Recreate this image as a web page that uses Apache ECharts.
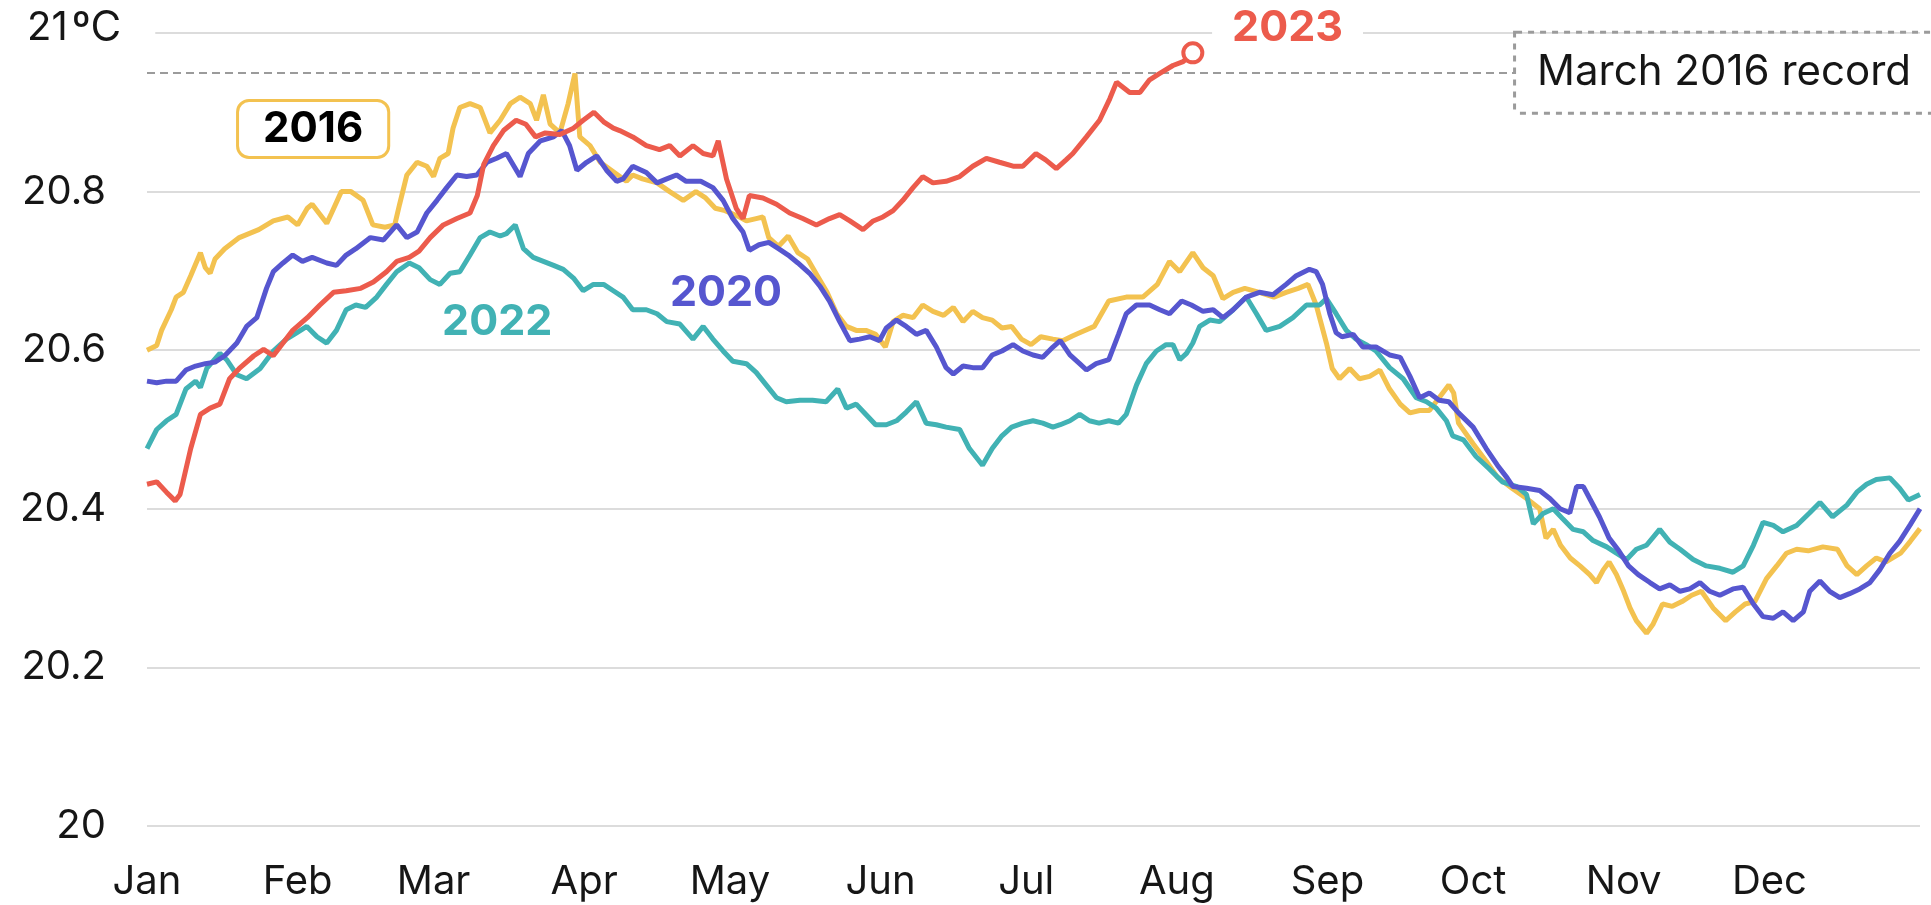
<!DOCTYPE html>
<html>
<head>
<meta charset="utf-8">
<script src="https://cdn.jsdelivr.net/npm/echarts@6/dist/echarts.min.js"></script>
<style>
html,body{margin:0;padding:0;background:#fff;}
#chart{width:1931px;height:905px;}
</style>
</head>
<body>
<div id="chart"></div>
<script>
// ---------- DATA ----------
const monthNames = ['Jan','Feb','Mar','Apr','May','Jun','Jul','Aug','Sep','Oct','Nov','Dec'];
const monthStartDays = [0,31,59,90,120,151,181,212,243,273,304,334];
const yMin = 20, yMax = 21, yStep = 0.2;
const topTickValue = '21';
const topTickUnit = 'ºC';
const recordValue = 20.95;
const recordLabel = 'March 2016 record';

// [day of year, °C]
const y2016 = [[0,20.600],[2,20.606],[3,20.625],[5,20.651],[6,20.667],[7.5,20.673],[9,20.694],[11,20.723],[12,20.704],[13,20.697],[14,20.715],[16,20.728],[19,20.742],[23,20.752],[26,20.763],[29,20.768],[31,20.758],[33,20.779],[34,20.784],[37,20.760],[38,20.773],[40,20.800],[42,20.800],[44.5,20.789],[46.5,20.758],[49,20.755],[51,20.758],[52,20.784],[53.5,20.821],[55.6,20.837],[57.6,20.832],[59,20.819],[60.3,20.842],[62,20.848],[63,20.880],[64.4,20.906],[66.5,20.911],[68.6,20.906],[70.6,20.874],[72.7,20.890],[74.8,20.911],[76.8,20.919],[78.9,20.911],[80.2,20.890],[81.6,20.922],[83,20.885],[85,20.874],[86.7,20.911],[88.1,20.949],[89.1,20.869],[91.2,20.858],[93.3,20.837],[96,20.825],[98.7,20.813],[100,20.821],[102,20.816],[105,20.811],[107.6,20.800],[110.4,20.789],[113,20.800],[115,20.792],[117,20.779],[119,20.776],[122,20.768],[123.4,20.763],[125.4,20.766],[126.8,20.768],[128,20.742],[130,20.731],[132,20.744],[134,20.723],[136,20.715],[138,20.694],[140,20.673],[142,20.646],[144,20.630],[146,20.625],[148,20.625],[150,20.620],[152,20.604],[153.6,20.636],[155.6,20.644],[157.7,20.641],[159.7,20.657],[161.8,20.649],[164,20.644],[166,20.654],[168,20.636],[170,20.649],[172,20.641],[174,20.638],[176,20.628],[178,20.630],[180,20.614],[182,20.607],[184,20.617],[186.5,20.614],[188.5,20.612],[190.5,20.618],[192,20.622],[195,20.630],[198,20.662],[201.6,20.667],[205,20.667],[208,20.683],[210.5,20.712],[212.6,20.699],[215.3,20.723],[217.4,20.704],[219.5,20.694],[221.5,20.665],[223.6,20.673],[226,20.678],[229,20.673],[232,20.667],[234.5,20.673],[237,20.678],[239,20.683],[240.7,20.657],[242.8,20.609],[244,20.577],[245.5,20.564],[247.6,20.577],[249.6,20.564],[251.7,20.567],[253.8,20.575],[255.8,20.551],[258,20.532],[260,20.521],[262,20.524],[264,20.524],[266,20.540],[268,20.556],[269,20.546],[270,20.508],[273,20.482],[275.7,20.460],[278,20.440],[281,20.426],[284,20.413],[286.7,20.400],[288,20.363],[289.5,20.374],[291,20.354],[293,20.338],[295,20.328],[297,20.317],[298.4,20.307],[299.8,20.323],[301,20.333],[302.5,20.317],[304,20.296],[305.3,20.275],[306.6,20.259],[308.7,20.243],[310,20.254],[312,20.280],[314,20.277],[316,20.283],[318,20.291],[320,20.296],[322.4,20.275],[325,20.259],[327,20.270],[329,20.280],[331,20.283],[333.4,20.312],[335.5,20.328],[337.5,20.344],[339.6,20.349],[342,20.347],[345,20.352],[348,20.349],[350,20.328],[352,20.317],[354,20.328],[356,20.338],[358,20.333],[361,20.344],[363,20.359],[365,20.375]];

const y2020 = [[0,20.561],[2,20.559],[4,20.561],[6,20.561],[8,20.575],[10,20.580],[12,20.583],[14,20.585],[16,20.593],[18.5,20.609],[20.5,20.630],[22.6,20.641],[24.6,20.678],[26,20.699],[28,20.710],[30,20.720],[32,20.712],[34,20.717],[37,20.710],[39,20.707],[41,20.720],[43,20.728],[46,20.742],[48.7,20.739],[51.4,20.758],[53.5,20.742],[55.6,20.749],[57.6,20.773],[59.7,20.789],[61.7,20.805],[63.8,20.821],[65.8,20.819],[67.9,20.821],[70,20.837],[72,20.842],[74,20.848],[76.8,20.819],[78.5,20.848],[81,20.864],[83.7,20.869],[85.4,20.877],[87,20.858],[88.5,20.827],[90.5,20.837],[92.6,20.845],[94.6,20.827],[96.7,20.813],[98,20.816],[100,20.832],[102.8,20.824],[105,20.811],[107,20.816],[109,20.821],[111,20.813],[114,20.813],[116.5,20.805],[118.6,20.789],[120.6,20.766],[122.7,20.749],[124,20.726],[126,20.733],[128,20.736],[130,20.728],[132,20.720],[134,20.710],[136.4,20.697],[138.5,20.681],[140.5,20.662],[142.6,20.636],[144.7,20.612],[146.7,20.614],[148.8,20.617],[150.8,20.612],[152.2,20.628],[154.3,20.638],[156.3,20.630],[158.4,20.620],[160.4,20.625],[162.5,20.604],[164.5,20.578],[166,20.570],[168,20.580],[170,20.578],[172,20.578],[174,20.594],[176,20.599],[178.3,20.607],[180.3,20.599],[182.4,20.594],[184.4,20.591],[186.5,20.604],[188,20.612],[190,20.594],[192,20.583],[193.4,20.575],[195.4,20.583],[198,20.588],[200,20.620],[201.6,20.646],[203.7,20.657],[206.4,20.657],[208.5,20.651],[210.5,20.646],[213,20.662],[215,20.657],[217.4,20.649],[219.5,20.651],[221.5,20.641],[223.6,20.651],[226.3,20.667],[229,20.673],[231.8,20.670],[234.5,20.683],[236.6,20.694],[239.3,20.702],[240.7,20.699],[242,20.683],[243.5,20.646],[244.8,20.622],[246,20.617],[248.3,20.620],[250.3,20.604],[253,20.604],[255.8,20.594],[258,20.591],[260,20.567],[262,20.540],[264,20.546],[266,20.537],[268,20.535],[270,20.521],[273,20.503],[275.7,20.476],[278,20.455],[280,20.439],[281.2,20.428],[284,20.426],[286.7,20.423],[288.8,20.413],[290.9,20.400],[292.9,20.395],[294.3,20.428],[295.7,20.428],[297,20.413],[299,20.390],[301,20.363],[303,20.347],[305,20.328],[307,20.317],[309.4,20.307],[311.4,20.299],[313.5,20.304],[315.6,20.296],[317.6,20.299],[319.7,20.307],[321.7,20.296],[323.8,20.291],[326.5,20.299],[328.6,20.301],[330.7,20.280],[332.7,20.264],[334.8,20.262],[336.8,20.270],[338.9,20.259],[341,20.270],[342.3,20.296],[344.4,20.309],[346.4,20.296],[348.5,20.288],[350.5,20.293],[352.6,20.299],[354.7,20.307],[356.7,20.323],[358.8,20.344],[360.8,20.359],[363,20.380],[365,20.400]];

const y2022 = [[0,20.476],[2,20.500],[4,20.511],[6,20.519],[8,20.551],[10,20.561],[11,20.553],[12.3,20.577],[15,20.596],[16.4,20.588],[18.5,20.569],[20.5,20.564],[23.3,20.577],[26,20.599],[28.7,20.614],[30.8,20.622],[32.9,20.630],[35,20.617],[37,20.609],[39,20.625],[41,20.651],[43,20.657],[45,20.654],[47.3,20.667],[49.3,20.683],[51.4,20.699],[54,20.710],[56,20.704],[58.3,20.689],[60.3,20.683],[62.4,20.697],[64.4,20.699],[66.5,20.720],[68.6,20.742],[70.6,20.749],[72.7,20.744],[74,20.747],[75.8,20.758],[77.5,20.728],[79.5,20.717],[81.6,20.712],[83.7,20.707],[85.7,20.702],[87.8,20.691],[89.8,20.675],[91.9,20.683],[94,20.683],[96,20.675],[98,20.667],[100,20.651],[102.8,20.651],[105,20.646],[107,20.636],[109.7,20.633],[112.4,20.614],[114.5,20.630],[116.5,20.614],[118.6,20.599],[120.6,20.586],[123.4,20.583],[125.4,20.572],[127.5,20.556],[129.6,20.540],[131.6,20.535],[134.4,20.537],[137,20.537],[139.8,20.535],[142.2,20.551],[144,20.527],[146,20.532],[148,20.519],[150,20.506],[152.2,20.506],[154.3,20.511],[156.3,20.522],[158.4,20.535],[160.4,20.508],[162.5,20.506],[164.5,20.503],[167.3,20.500],[169.3,20.476],[172,20.455],[174,20.476],[176,20.492],[178,20.503],[180.3,20.508],[182.4,20.511],[184.4,20.508],[186.5,20.503],[188,20.506],[190,20.511],[192,20.519],[194,20.511],[196,20.508],[198,20.511],[200,20.508],[201.6,20.519],[203.7,20.556],[205.7,20.583],[207.8,20.599],[209.8,20.607],[211.2,20.607],[212.6,20.588],[214,20.596],[215.3,20.609],[216.7,20.630],[218.8,20.638],[220.8,20.636],[223.6,20.651],[226.3,20.667],[228.4,20.646],[230.4,20.625],[233.2,20.630],[235.9,20.641],[238.7,20.657],[241.4,20.657],[242.8,20.665],[244.8,20.646],[246.9,20.625],[248.9,20.614],[251,20.607],[253,20.599],[255.8,20.578],[258.6,20.564],[261.3,20.540],[263.4,20.535],[265.4,20.527],[267.5,20.511],[268.8,20.492],[271,20.487],[273.6,20.466],[276.4,20.450],[279,20.434],[282,20.428],[284,20.418],[285.4,20.381],[287.4,20.394],[289.5,20.400],[291.5,20.387],[293.6,20.374],[295.7,20.371],[297.7,20.360],[300.5,20.352],[302.5,20.344],[304.6,20.336],[306.6,20.349],[308.7,20.354],[311.4,20.374],[313.5,20.358],[315.6,20.349],[318.3,20.336],[321,20.328],[323.8,20.325],[326.5,20.320],[328.6,20.328],[330.7,20.354],[332.7,20.383],[334.8,20.379],[336.8,20.371],[339.6,20.379],[342.3,20.395],[344.4,20.408],[347,20.390],[350,20.405],[352,20.421],[354,20.431],[356,20.437],[358.8,20.439],[360.8,20.426],[362.6,20.411],[365,20.418]];

const y2023 = [[0,20.431],[2,20.434],[4,20.421],[5.8,20.410],[6.8,20.418],[9,20.476],[11,20.519],[13,20.527],[15,20.532],[17,20.564],[19,20.577],[22,20.593],[24,20.601],[26,20.593],[28,20.609],[30,20.625],[33,20.641],[35.6,20.657],[38.4,20.673],[41,20.675],[44,20.678],[46.6,20.686],[49.3,20.699],[51.4,20.712],[54,20.717],[56,20.725],[58.3,20.742],[61,20.758],[63.8,20.766],[66.5,20.773],[68,20.795],[69.3,20.834],[71.3,20.858],[73.4,20.877],[76,20.890],[78,20.885],[80,20.869],[82,20.874],[85,20.872],[87.8,20.880],[89.8,20.890],[92,20.900],[94,20.888],[96,20.880],[97.3,20.877],[100,20.869],[102.8,20.858],[105.5,20.853],[107.6,20.858],[109.7,20.845],[112.4,20.858],[114.5,20.848],[116.5,20.845],[117.6,20.864],[119.3,20.816],[121.3,20.779],[122.7,20.766],[124,20.795],[126.8,20.792],[129.6,20.784],[132.3,20.773],[135,20.766],[137.8,20.758],[140.5,20.766],[142.6,20.771],[144.7,20.763],[147.4,20.752],[149.5,20.763],[151.5,20.768],[153.6,20.776],[155.6,20.789],[157.7,20.805],[159.7,20.819],[161.8,20.811],[164.5,20.813],[167.3,20.819],[170,20.832],[172.8,20.842],[175.5,20.837],[178.3,20.832],[180.3,20.832],[183,20.848],[185,20.840],[187.2,20.829],[189.2,20.840],[190.6,20.848],[193.4,20.869],[196.1,20.890],[198.2,20.917],[199.6,20.938],[202.3,20.925],[204.4,20.925],[206.4,20.941],[208.5,20.949],[211.2,20.959],[213.3,20.964],[215.3,20.975]];

// series label anchors [day, °C]
const label2016At = [34.2, 20.879];
const label2022At = [72.1, 20.636];
const label2020At = [119.2, 20.672];
const label2023At = [234.8, 21.0];

// ---------- STYLE ----------
const C2016 = '#f3c250', C2020 = '#5656cf', C2022 = '#41b2b4', C2023 = '#ec5b4c';
const FONT = 'Inter, "Liberation Sans", sans-serif';
const TXT = '#161616';
const LW = 5;

const chart = echarts.init(document.getElementById('chart'), null, {renderer:'canvas'});

function labelPoint(coord, text, color, extra) {
  return {
    coord: coord, symbol: 'circle', symbolSize: 1,
    itemStyle: {color: 'rgba(0,0,0,0)'},
    label: Object.assign({
      show: true, position: 'inside', formatter: text,
      color: color, fontFamily: FONT, fontWeight: 'bold', fontSize: 43
    }, extra || {})
  };
}

const option = {
  animation: false,
  backgroundColor: '#fff',
  grid: {left: 147, right: 11, top: 33, bottom: 79, containLabel: false},
  xAxis: {
    type: 'value', min: 0, max: 365,
    axisLine: {show: false}, axisTick: {show: false}, splitLine: {show: false},
    axisLabel: {
      customValues: monthStartDays,
      formatter: v => { const i = monthStartDays.indexOf(Math.round(v)); return i >= 0 ? monthNames[i] : ''; },
      fontFamily: FONT, fontSize: 40, color: TXT, margin: 36
    }
  },
  yAxis: {
    type: 'value', min: yMin, max: yMax, interval: yStep,
    axisLine: {show: false}, axisTick: {show: false},
    splitLine: {lineStyle: {color: '#dcdcdc', width: 2}},
    axisLabel: {
      formatter: v => (Math.abs(v - yMax) < 1e-6 ? '' : String(+v.toFixed(1))),
      fontFamily: FONT, fontSize: 40, color: TXT, margin: 41, padding: [14,0,0,0]
    }
  },
  graphic: [{
    type: 'text', x: 27, y: 28, z: 100,
    style: {
      text: '{a|' + topTickValue + '}{b|' + topTickUnit + '}',
      verticalAlign: 'middle', align: 'left',
      backgroundColor: '#fff', padding: [4, 34, 4, 0],
      rich: {
        a: {fontFamily: FONT, fontSize: 40, fill: TXT, color: TXT},
        b: {fontFamily: FONT, fontSize: 42, fill: TXT, color: TXT, padding: [0, 0, 0, 4]}
      }
    }
  }],
  series: [
    {
      name: '2016', type: 'line', data: y2016, showSymbol: false, symbol: 'none',
      lineStyle: {width: LW, color: C2016}, itemStyle: {color: C2016}, z: 2,
      markLine: {
        silent: true, symbol: ['none','none'], z: 1,
        lineStyle: {type: [8,5], color: '#9b9b9b', width: 2},
        data: [{yAxis: recordValue}],
        label: {
          show: true, position: 'insideEnd', distance: -12, formatter: recordLabel,
          fontFamily: FONT, fontSize: 42, color: TXT,
          backgroundColor: '#fff', borderColor: '#9b9b9b', borderType: 'dotted', borderWidth: 3,
          padding: [18, 21]
        }
      },
      markPoint: {
        silent: true, z: 20,
        data: [labelPoint(label2016At, '2016', '#000', {
          fontSize: 42, backgroundColor: '#fff', borderColor: C2016, borderWidth: 3, borderRadius: 10, padding: [6, 24]
        })]
      }
    },
    {
      name: '2022', type: 'line', data: y2022, showSymbol: false, symbol: 'none',
      lineStyle: {width: LW, color: C2022}, itemStyle: {color: C2022}, z: 3,
      markPoint: {silent: true, z: 20, data: [labelPoint(label2022At, '2022', C2022)]}
    },
    {
      name: '2020', type: 'line', data: y2020, showSymbol: false, symbol: 'none',
      lineStyle: {width: LW, color: C2020}, itemStyle: {color: C2020}, z: 4,
      markPoint: {silent: true, z: 20, data: [labelPoint(label2020At, '2020', C2020)]}
    },
    {
      name: '2023', type: 'line', data: y2023, showSymbol: false, symbol: 'none',
      lineStyle: {width: LW, color: C2023}, itemStyle: {color: C2023}, z: 5,
      markPoint: {
        silent: true, z: 20,
        data: [
          labelPoint(label2023At, '2023', C2023, {backgroundColor: '#fff', padding: [2, 20], offset: [0, -5]}),
          {
            coord: y2023[y2023.length - 1], symbol: 'circle', symbolSize: 19,
            itemStyle: {color: '#fff', borderColor: C2023, borderWidth: 4},
            label: {show: false}
          }
        ]
      }
    }
  ]
};
chart.setOption(option);
</script>
</body>
</html>
